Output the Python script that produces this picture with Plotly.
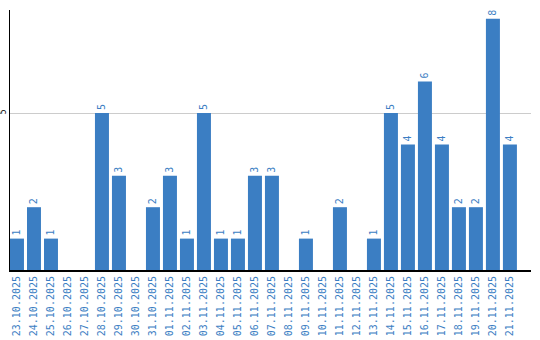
import plotly.graph_objects as go

dates = ["23.10.2025","24.10.2025","25.10.2025","26.10.2025","27.10.2025","28.10.2025",
         "29.10.2025","30.10.2025","31.10.2025","01.11.2025","02.11.2025","03.11.2025",
         "04.11.2025","05.11.2025","06.11.2025","07.11.2025","08.11.2025","09.11.2025",
         "10.11.2025","11.11.2025","12.11.2025","13.11.2025","14.11.2025","15.11.2025",
         "16.11.2025","17.11.2025","18.11.2025","19.11.2025","20.11.2025","21.11.2025"]
values = [1,2,1,0,0,5,3,0,2,3,1,5,1,1,3,3,0,1,0,2,0,1,5,4,6,4,2,2,8,4]

blue = "#3b7ec3"
idx = list(range(len(dates)))
labels = [str(v) if v else "" for v in values]

fig = go.Figure(go.Bar(
    x=idx, y=values, marker_color=blue, marker_line_width=0,
    text=labels, textposition="outside", textangle=-90,
    textfont=dict(family="DejaVu Sans Mono", size=10, color=blue),
    cliponaxis=False,
))
fig.update_layout(
    width=540, height=340, margin=dict(l=10, r=9, t=10, b=70),
    paper_bgcolor="white", plot_bgcolor="white", bargap=3/17,
    showlegend=False,
    font=dict(family="DejaVu Sans Mono"),
)
fig.update_xaxes(
    range=[-0.41, 30.24], tickmode="array", tickvals=idx, ticktext=dates,
    tickangle=-90, tickfont=dict(family="DejaVu Sans Mono", size=10, color=blue),
    showline=True, linecolor="black", linewidth=2, showgrid=False, ticks="",
    automargin=False,
)
fig.update_yaxes(
    range=[0, 8.28], tickmode="array", tickvals=[5], ticktext=["5"],
    tickangle=-90, tickfont=dict(family="DejaVu Sans Mono", size=8, color="black"),
    showline=True, linecolor="black", linewidth=1, showgrid=True, gridcolor="#cccccc",
    zeroline=False, ticks="", automargin=False, ticklabelstandoff=0,
)
fig.write_html("out.html")
